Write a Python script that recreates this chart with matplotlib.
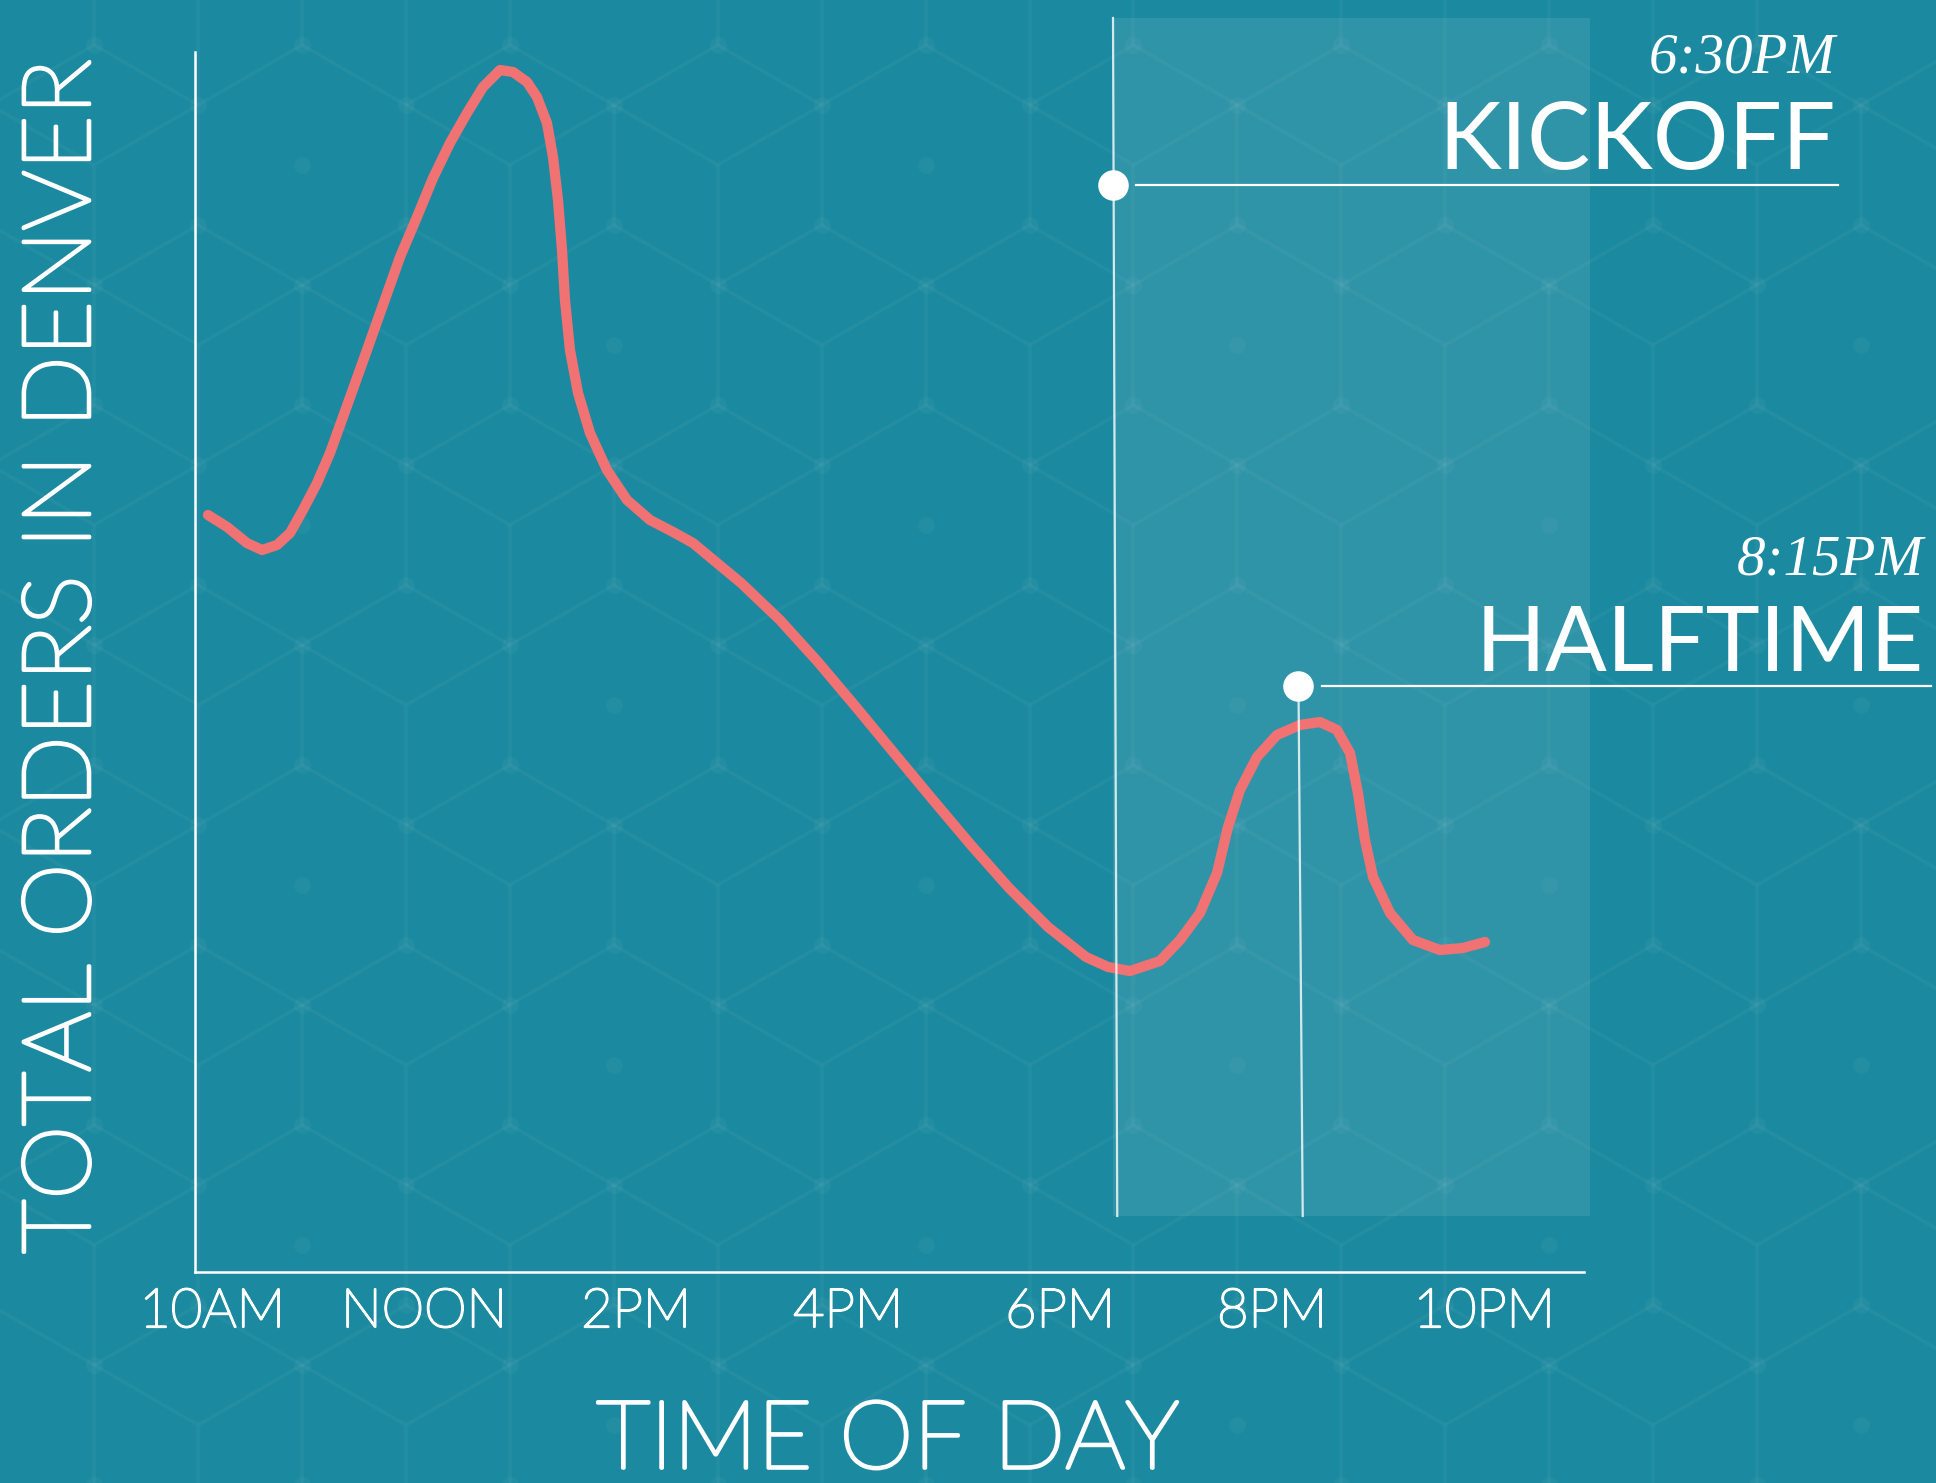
import numpy as np
import matplotlib
matplotlib.use("Agg")
import matplotlib.pyplot as plt
import matplotlib.patheffects as pe
from matplotlib.collections import LineCollection
from matplotlib.patches import Rectangle

# ---------------- data ----------------
hours = [9.962, 10.142, 10.330, 10.472, 10.613, 10.736, 10.858, 10.991, 11.113, 11.283,
         11.462, 11.623, 11.774, 11.934, 12.085, 12.245, 12.406, 12.557, 12.717, 12.840,
         12.972, 13.066, 13.160, 13.217, 13.264, 13.302, 13.330, 13.377, 13.453, 13.566,
         13.726, 13.915, 14.132, 14.349, 14.538, 14.991, 15.358, 15.717, 16.075, 16.434,
         16.802, 17.160, 17.519, 17.887, 18.245, 18.453, 18.660, 18.943, 19.132, 19.321,
         19.481, 19.585, 19.698, 19.858, 20.047, 20.264, 20.453, 20.613, 20.736, 20.811,
         20.877, 20.953, 21.113, 21.330, 21.585, 21.802, 22.009]
orders = [62.05, 61.07, 59.75, 59.18, 59.59, 60.57, 62.46, 64.67, 67.13, 71.23,
          75.57, 79.51, 83.20, 86.48, 89.67, 92.54, 95.00, 97.13, 98.52, 98.36,
          97.54, 96.31, 94.18, 91.39, 87.87, 83.77, 79.67, 75.57, 72.05, 68.77,
          65.74, 63.28, 61.64, 60.66, 59.75, 56.48, 53.44, 50.00, 46.31, 42.54,
          38.69, 35.00, 31.48, 28.28, 25.82, 25.00, 24.67, 25.49, 27.21, 29.43,
          32.70, 36.48, 39.51, 42.21, 44.02, 44.84, 45.08, 44.43, 42.54, 39.26,
          35.41, 32.38, 29.43, 27.21, 26.39, 26.56, 27.05]

tick_hours = [10, 12, 14, 16, 18, 20, 22]
tick_labels = ["10AM", "NOON", "2PM", "4PM", "6PM", "8PM", "10PM"]

event_names = ["KICKOFF", "HALFTIME"]
event_times = ["6:30PM", "8:15PM"]
event_hours = [18.5, 20.25]
event_levels = [89.1, 48.0]
game_window = [18.5, 23.0]

# ---------------- layout helpers (pixel mapping) ----------------
W, H = 1936, 1483
def hx(px):
    return 10 + (px - 212) / 106.0
def vy(py):
    return (1272 - py) / 12.2

BG = "#1b899f"
CURVE = "#f07272"
WHITE = "white"
thin_bold = [pe.withStroke(linewidth=2.6, foreground=WHITE)]
tick_bold = [pe.withStroke(linewidth=1.6, foreground=WHITE)]

fig = plt.figure(figsize=(W / 100, H / 100), dpi=100)
fig.patch.set_facecolor(BG)

# ---------------- background cube pattern ----------------
bg = fig.add_axes([0, 0, 1, 1])
bg.set_xlim(0, W)
bg.set_ylim(H, 0)
bg.axis("off")
s = 120.0
wid = s * np.sqrt(3)
segs, dots = [], []
for j in range(-6, 5):
    for i in range(-10, 3):
        cx = 1757 + wid * i + (wid / 2 if j % 2 else 0)
        cy = 885 + 180 * j
        top = (cx, cy - s); ur = (cx + wid / 2, cy - s / 2); lr = (cx + wid / 2, cy + s / 2)
        bot = (cx, cy + s); ul = (cx - wid / 2, cy - s / 2)
        segs += [[top, ur], [ur, lr], [lr, bot]]
        dots += [top, ur]
        q = i - (j - (j & 1)) // 2
        if (q - j) % 3 == 2:
            dots.append((cx, cy))
        else:
            segs += [[(cx, cy), ul], [(cx, cy), ur], [(cx, cy), bot]]
bg.add_collection(LineCollection(segs, colors=(1, 1, 1, 0.04), linewidths=2.6))
d = np.array(dots)
bg.scatter(d[:, 0], d[:, 1], s=150, color=(1, 1, 1, 0.035), linewidths=0)

# ---------------- main axes ----------------
ax = fig.add_axes([195 / W, 1 - 1272 / H, (1584 - 195) / W, (1272 - 52) / H])
ax.set_facecolor("none")
ax.set_xlim(hx(195), hx(1584))
ax.set_ylim(0, vy(52))
for sp in ["top", "right"]:
    ax.spines[sp].set_visible(False)
for sp in ["left", "bottom"]:
    ax.spines[sp].set_color(WHITE)
    ax.spines[sp].set_linewidth(1.8)
ax.set_yticks([])
ax.set_xticks(tick_hours)
ax.set_xticklabels(tick_labels, fontsize=39, color=WHITE,
                   fontfamily="Lato", fontweight="light")
ax.tick_params(axis="x", length=0, pad=39.6)
for lbl in ax.get_xticklabels():
    lbl.set_verticalalignment("baseline")
    lbl.set_path_effects(tick_bold)

# shaded game window
ax.add_patch(Rectangle((game_window[0], vy(1216)), game_window[1] - game_window[0],
                       vy(18) - vy(1216), facecolor=(1, 1, 1, 0.095),
                       edgecolor="none", clip_on=False, zorder=1))

# curve
ax.plot(hours, orders, color=CURVE, lw=7.4, solid_capstyle="round",
        solid_joinstyle="round", clip_on=False, zorder=3)

# event markers
line_col = (1, 1, 1, 0.8)
tops = [vy(18), event_levels[1]]
text_right = [hx(1836), hx(1924)]
line_end = [hx(1838), hx(1931)]
name_size = [68, 66]
for k in range(2):
    t, lev = event_hours[k], event_levels[k]
    ax.plot([t, t + 0.04], [tops[k], vy(1216)], color=line_col, lw=1.6,
            clip_on=False, zorder=4)
    ax.plot([t + 0.22, line_end[k]], [lev, lev], color=WHITE, lw=1.6,
            clip_on=False, zorder=4)
    ax.plot([t], [lev], "o", ms=22, color=WHITE, mec="none", clip_on=False, zorder=5)
    ax.text(text_right[k], lev + 1.3, event_names[k], ha="right", va="baseline",
            fontsize=name_size[k], color=WHITE, fontfamily="Lato", fontweight="normal")
    ax.text(text_right[k], lev + 9.2, event_times[k], ha="right", va="baseline",
            fontsize=41, color=WHITE, fontfamily="Liberation Serif", fontstyle="italic")

# axis titles
fig.text(888 / W, 1 - 1468 / H, "TIME OF DAY", ha="center", va="baseline",
         fontsize=68, color=WHITE, fontfamily="Lato", fontweight="light",
         path_effects=thin_bold)
fig.text(64 / W, 1 - 656 / H, "TOTAL ORDERS IN DENVER", ha="center", va="center",
         rotation=90, fontsize=68, color=WHITE, fontfamily="Lato", fontweight="light",
         path_effects=thin_bold)

fig.savefig("out.png", dpi=100, facecolor=BG)
